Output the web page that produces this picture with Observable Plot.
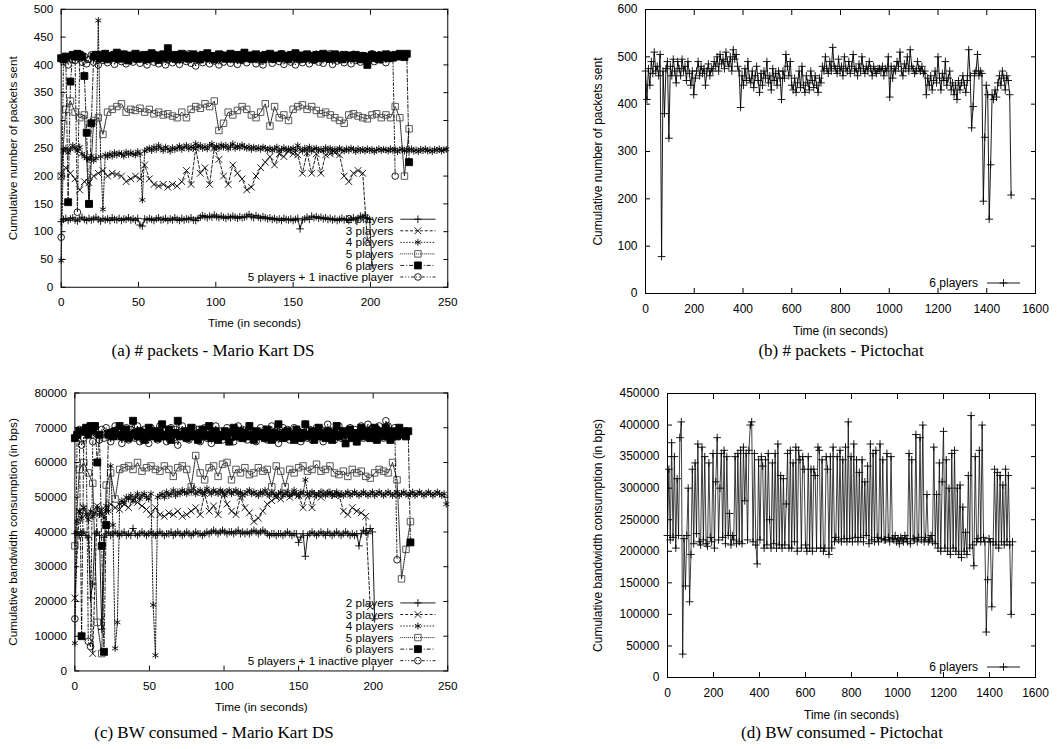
<!DOCTYPE html>
<html><head><meta charset="utf-8">
<script src="https://cdn.jsdelivr.net/npm/d3@7"></script>
<script src="https://cdn.jsdelivr.net/npm/@observablehq/plot@0.6"></script>
<style>
body{margin:0;background:#fff;}
#root{position:relative;width:1063px;height:749px;overflow:hidden;background:#fff;}
.panel{position:absolute;overflow:hidden;}
.cap{position:absolute;font-family:"Liberation Serif","Times New Roman",serif;font-size:17px;color:#000;white-space:nowrap;transform:translateX(-50%);line-height:20px;}
</style></head><body><div id="root"></div>
<script>
// ---------------- DATA ----------------
const seriesNames = ["2 players","3 players","4 players","5 players","6 players","5 players + 1 inactive player"];
// sampling interval (s) of each Mario Kart trace, in legend order
const mkSteps = [1.5, 3, 1.5, 3, 1.5, 1.5];
const pcStep = 6;       // sampling interval (s) of the Pictochat traces

// (a) packets - Mario Kart DS
const pkt2 = [118,122,124,120,123,125,121,119,123,126,
122,120,124,121,123,126,122,119,124,121,
123,120,125,122,121,124,120,123,122,125,
121,123,120,124,112,110,123,121,124,122,
120,123,125,121,122,124,120,123,121,125,
122,120,124,121,123,122,125,121,120,124,
126,129,127,125,128,126,130,127,125,128,
126,124,127,125,128,126,124,127,125,126,
128,131,127,125,129,126,124,127,125,123,
125,122,124,121,123,120,124,122,121,123,
120,122,124,105,121,123,126,122,128,125,
127,124,126,123,125,122,124,121,123,120,
122,124,121,123,120,122,125,121,124,128,
126,130,124,122,40];
const pkt3 = [200,215,205,195,175,190,188,200,205,210,200,205,203,200,190,195,200,195,220,195,185,182,185,180,185,182,190,210,185,250,205,215,185,250,230,200,185,220,205,195,175,180,200,215,225,235,220,240,235,245,240,238,205,242,205,240,205,238,240,242,238,200,190,205,210,205,85];
const pkt4 = [48,245,250,242,248,255,250,245,252,240,
235,232,230,236,228,232,480,235,140,238,
235,240,236,242,238,241,240,236,243,239,
242,240,238,244,240,157,245,248,250,246,
252,248,255,250,246,252,249,245,251,248,
250,254,248,252,255,249,253,250,258,252,
255,250,253,249,255,258,251,254,250,256,
252,255,249,253,258,250,254,251,256,252,
250,253,248,252,249,251,248,252,250,247,
250,246,249,252,245,248,251,246,249,247,
250,246,255,248,245,250,247,252,245,249,
250,246,248,245,251,247,250,245,248,246,
250,247,245,249,246,250,248,244,249,246,
248,245,249,246,248,244,247,249,246,248,
247,245,249,246,248,244,247,249,245,248,
246,249,245,247,244,248,246,249,245,247,
244,248,246,249,245,247,248];
const pkt5 = [200,320,335,315,305,310,150,300,305,275,315,320,325,330,315,320,318,322,315,320,312,315,310,312,308,305,315,305,320,325,322,330,325,335,282,295,315,310,318,325,320,310,305,315,330,290,325,305,310,300,320,325,328,320,325,318,312,315,310,305,300,295,310,312,308,305,303,310,312,305,310,305,325,305,200,285];
const pkt6 = [412,410,415,153,370,418,415,420,418,415,380,278,150,295,415,418,
418,412,415,420,410,416,413,418,422,411,
415,419,412,408,417,414,420,411,416,413,
418,410,415,421,412,417,409,414,419,413,
430,416,412,418,410,415,420,413,417,411,
415,419,412,416,410,418,414,421,412,416,
410,415,419,413,417,411,416,420,412,415,
418,410,414,422,413,417,411,415,419,412,
416,410,418,414,420,411,415,417,412,419,
413,416,410,418,415,421,412,417,411,414,
419,413,416,410,418,415,412,420,414,417,
411,415,419,412,416,410,418,413,417,415,
412,418,414,410,416,413,400,
415,418,412,416,410,417,414,419,412,416,413,418,415,420,417,414,420,225];
const pktIn = [90,410,412,400,415,410,408,135,412,405,
415,402,410,418,405,412,400,415,408,420,
404,412,418,401,410,415,406,419,402,412,
416,405,410,420,403,414,408,400,416,411,
405,418,402,412,415,400,409,417,404,413,
418,401,410,415,406,420,403,412,398,415,
409,404,418,411,402,416,407,413,400,419,
405,412,417,403,410,415,401,418,408,412,
404,416,410,419,402,413,407,400,415,411,
418,403,410,414,406,420,401,412,417,405,
413,400,416,409,404,418,411,402,415,408,
419,405,412,403,416,410,420,401,414,407,
412,418,404,410,416,402,419,408,413,405,
417,410,403,415,420,406,412,418,409,414,
404,419,412,416,200];

// (c) bandwidth (bps) - Mario Kart DS
const bw2 = [39500,40000,39000,39500,40000,39000,38500,21000,25000,39500,
40000,39000,12000,38500,39500,40000,39000,39500,40000,39500,
39000,39500,40000,39000,39500,39000,41000,39500,39000,39500,
40000,39500,39000,39500,40000,39500,39000,39500,40000,39500,
39000,39500,39500,40000,39000,39500,40000,39500,39000,39500,
40000,39500,39000,39500,40000,39500,39500,39000,39500,40000,
39500,40000,40500,40000,39500,40000,40500,40000,39500,40000,
40000,39500,40000,40500,39500,40000,39500,40000,39500,40000,
40500,40000,39500,40000,40500,40000,39500,39000,39500,39500,
39000,39500,39500,39000,39500,40000,39500,39000,39500,39500,
37000,38500,39500,33000,39000,39500,40000,39500,39000,39500,
40000,39500,39000,40000,39500,39000,39500,40000,39500,39000,
39500,40000,39500,39000,39500,39000,39500,36000,39500,40500,
40000,39500,41000,40000,15000];
const bw3 = [21000,46000,47000,45000,5000,47500,45000,46000,48000,47000,46500,48000,47000,49000,48500,47500,46500,45000,47000,45000,44500,45500,45000,46000,44500,45000,46000,47000,45000,51000,46000,47500,45000,51500,48000,46000,45000,50000,47000,45500,43000,44000,46000,48000,49000,50000,49500,51000,50000,51000,50500,47000,51000,47000,51000,50000,51500,51000,50500,51000,46000,45000,47000,46000,45500,44500,18500];
const bw4 = [8000,43000,46000,44000,47000,45000,43500,46000,44500,45500,
47000,45000,46500,44000,47500,46000,59000,42000,6500,14000,
48000,49000,48500,50000,49500,50500,49000,50000,51000,49500,
50500,51000,50000,49500,51000,19000,4500,50000,50500,51000,
50000,51500,50500,51000,52000,50500,51500,51000,52000,51500,
51000,52000,51500,52500,51000,51500,52000,51000,51500,52500,
51500,51000,52000,51500,51000,52000,51500,50500,51500,52000,
51000,51500,52000,51000,51500,50500,51000,51500,52000,51000,
51500,51000,50500,51500,51000,52000,51000,50500,51500,51000,
50500,51000,51500,50500,51000,51500,50500,51000,52000,51000,
50500,51500,51000,55000,51000,50500,51500,51000,50500,51000,
51500,51000,50500,51000,51500,50500,51000,51500,50500,51000,
50500,51000,51500,50500,51000,51500,51000,50500,51000,51500,
51000,50500,51000,51500,50500,51000,51500,51000,50500,51000,
51500,51000,50500,51000,51500,50500,51000,51500,51000,50500,
51000,51500,50500,51000,51500,51000,50500,51000,51500,51000,
50500,51000,51500,51000,50500,51000,48000];
const bw5 = [36000,58000,60000,57000,54000,14000,5000,53500,57000,49500,58000,58500,59000,58000,60000,57500,58500,59000,58000,57500,59000,58000,56000,58500,59000,58000,53000,62000,57000,55000,58500,59000,56000,59500,60000,55000,58000,57000,58500,56500,57000,58500,57500,58000,53000,59000,57500,53000,58000,57000,58500,59000,57500,58000,59500,57500,58000,59000,57000,56500,57500,56000,58000,57000,57500,56000,55500,57000,58000,57500,57000,60000,55000,26500,35000,43000];
const bw6 = [67000,68000,69000,10000,69000,70000,68000,70500,69000,70500,60000,68000,36000,5500,42000,68000,
68500,67500,69000,68000,70500,67500,68500,69500,67000,68000,
72000,68500,67500,69000,68000,66500,68500,70000,67500,68000,
69000,67000,68500,71000,67500,68000,69500,66500,68000,68500,
72000,67500,68000,69000,67000,68500,70000,67500,68000,66500,
68500,69500,67500,68000,70500,67000,68500,69000,66500,68000,
67500,69000,68000,66000,68500,70000,67500,68000,69000,67000,
68500,67500,70500,68000,66500,69000,67500,68000,68500,67000,
69500,68000,66500,68500,67500,71000,68000,67000,68500,69000,
67500,68000,66500,69500,68000,67000,68500,71000,67500,68000,
69000,66500,68000,70000,67500,68500,67000,69000,68000,66500,
68500,70500,67500,68000,69000,65500,68000,69500,67000,68500,
66000,68000,70000,67500,68500,69000,67000,68000,70000,66500,
68500,69000,67500,70000,68000,66500,69000,68500,67500,70000,
68000,69000,67500,69000,37000];
const bwIn = [15000,68000,69500,65000,67000,70000,8500,7000,66000,70500,
68000,66500,69500,67000,70000,68500,66000,69000,70500,67500,
69000,65500,68000,70000,66500,69500,68000,67000,70500,66000,
68500,69500,67000,65500,70000,68000,69000,66500,70500,67500,
69000,66000,68500,70000,67000,69500,65000,68000,70500,67500,
69000,66500,68000,70000,67500,69500,66000,68500,70000,67000,
69500,65500,68000,70500,67000,69000,66500,68500,70000,67500,
69000,66000,68500,70500,67000,69500,68000,66500,70000,67500,
69000,66000,68500,70000,67500,69500,66500,68000,70500,67000,
69000,65500,68500,70000,67000,69500,66500,68000,70000,67500,
69000,66000,68500,71000,67000,69500,66500,68000,70000,67500,
69500,66000,68500,71000,67500,69000,66500,68000,70500,67000,
69000,66500,68500,70000,67500,69500,66000,68000,70500,67000,
69000,71000,68000,70000,67000,69500,70500,68000,67000,72000,
70500,69000,67000,70000,32000];

// (b) packets - Pictochat, 6 players
const pcPkt = [470,410,475,440,490,465,510,470,480,460,505,78,470,380,475,490,328,
480,460,495,470,445,490,475,460,495,470,480,450,490,465,440,470,420,
455,470,490,460,480,465,475,440,470,485,460,475,470,
490,480,500,470,505,485,495,475,510,490,480,500,470,515,495,505,480,470,393,
460,440,475,450,490,455,445,470,435,460,480,450,425,465,440,470,455,490,445,460,430,475,450,465,440,470,455,410,
470,455,505,480,460,490,
440,430,455,425,445,470,435,480,440,425,460,445,430,470,450,435,460,440,425,455,445,
480,470,500,475,465,490,470,520,480,475,465,495,470,480,460,500,475,470,490,465,480,505,470,475,460,485,470,500,475,465,480,470,490,475,460,480,470,465,475,475,470,480,460,475,470,500,415,480,455,475,470,490,480,510,470,460,485,475,500,470,515,480,475,465,470,490,475,470,480,465,
470,420,455,440,460,430,450,470,445,500,455,430,465,450,490,440,455,470,430,445,420,
440,410,450,430,445,460,440,425,450,515,460,350,395,465,470,505,460,470,465,195,330,440,420,157,272,
420,410,430,415,445,460,440,470,455,430,460,450,420,208];

// (d) bandwidth - Pictochat, 6 players (in thousands of bps)
const pcBwK = [225,330,218,372,222,350,205,315,225,380,
405,37,220,145,225,300,120,195,330,212,
340,228,370,215,210,365,218,350,212,208,
340,222,215,355,205,310,380,218,300,355,
222,360,212,350,225,260,210,225,218,350,
212,355,215,360,212,365,280,355,218,360,
400,405,215,355,210,180,345,218,350,335,
205,345,210,355,250,205,340,212,355,205,
370,210,320,205,315,210,275,355,205,360,
205,340,215,365,200,360,345,205,350,330,
210,200,350,205,330,200,330,320,205,365,
360,205,345,200,205,350,330,195,350,205,
365,215,222,350,218,360,215,345,220,365,
215,405,220,350,215,370,222,345,215,325,
222,345,215,310,225,335,212,370,218,355,
215,360,222,215,370,220,345,218,218,355,
222,215,350,220,218,225,215,220,212,222,
218,215,225,220,215,355,212,345,220,218,
385,215,222,380,218,400,215,222,290,215,
218,225,215,365,212,290,205,340,200,310,
390,205,345,200,300,195,355,205,360,200,
300,195,305,190,270,200,230,195,320,205,
415,210,177,350,215,220,360,215,400,222,
215,72,155,220,215,112,215,330,210,325,
205,320,215,305,210,330,215,320,210,100,215];

const mkXTicks = [0,50,100,150,200,250];
const pcXTicks = [0,200,400,600,800,1000,1200,1400,1600];
const pktYTicks = [0,50,100,150,200,250,300,350,400,450,500];
const pcPktYTicks = [0,100,200,300,400,500,600];
const bwYTicks = [0,10000,20000,30000,40000,50000,60000,70000,80000];
const pcBwYTicks = [0,50000,100000,150000,200000,250000,300000,350000,400000,450000];
const captions = ["(a) # packets - Mario Kart DS","(b) # packets - Pictochat","(c) BW consumed - Mario Kart DS","(d) BW consumed - Pictochat"];

// ---------------- STYLE ----------------
const styles = [
  {symbol:"plus", d3sym:d3.symbolPlus, r:2.6, fill:"none", stroke:"black", dash:null},
  {symbol:"times", d3sym:d3.symbolTimes, r:3.2, fill:"none", stroke:"black", dash:"3,2"},
  {symbol:"asterisk", d3sym:d3.symbolAsterisk, r:3.3, fill:"none", stroke:"black", dash:"1.5,1.5"},
  {symbol:"square2", d3sym:d3.symbolSquare2, r:4.2, fill:"none", stroke:"#444", dash:"1,1"},
  {symbol:"square", d3sym:d3.symbolSquare, r:4, fill:"black", stroke:"black", dash:"4,2,1,2"},
  {symbol:"circle", d3sym:d3.symbolCircle, r:3.4, fill:"none", stroke:"black", dash:"3,2,1,2,1,2"}
];
const FONT = "'Liberation Sans', Arial, Helvetica, sans-serif";
const rows = (vals, step, scale = 1) => vals.map((v, i) => ({t: i * step, v: v * scale}));
const fmt = d3.format("d");

function panel(o) {
  const [mt, mr, mb, ml] = o.margin;
  const marks = [];
  o.series.forEach((s, k) => {
    const st = o.styles[k];
    marks.push(Plot.line(s, {x: "t", y: "v", stroke: "black", strokeWidth: o.lineWidth, strokeDasharray: st.dash}));
    marks.push(Plot.dot(s, {x: "t", y: "v", symbol: st.symbol, r: st.r, stroke: st.stroke, fill: st.fill, strokeWidth: 0.9}));
  });
  marks.push(Plot.frame({stroke: "black", strokeWidth: 1}));
  marks.push(Plot.axisX(o.xTicks, {anchor: "bottom", tickSize: -5, tickPadding: 16, tickFormat: fmt, label: "Time (in seconds)", labelAnchor: "center", labelOffset: 41, labelArrow: "none"}));
  marks.push(Plot.axisX(o.xTicks, {anchor: "top", tickSize: -5, tickFormat: () => "", label: null}));
  marks.push(Plot.axisY(o.yTicks, {anchor: "left", tickSize: -5, tickPadding: 13, tickFormat: fmt, label: o.yLabel, labelAnchor: "center", labelOffset: o.yLabelOffset, labelArrow: "none"}));
  marks.push(Plot.axisY(o.yTicks, {anchor: "right", tickSize: -5, tickFormat: () => "", label: null}));
  const svg = Plot.plot({
    width: o.width, height: o.height,
    marginTop: mt, marginRight: mr, marginBottom: mb, marginLeft: ml,
    x: {domain: o.xDomain}, y: {domain: o.yDomain},
    style: {fontFamily: FONT, fontSize: "12px", background: "white", color: "black", overflow: "visible"},
    marks
  });
  // key (gnuplot style, inside bottom-right)
  const right = o.width - mr, bottom = o.height - mb;
  const g = d3.select(svg).append("g").attr("font-family", FONT).attr("font-size", 12);
  const n = o.legend.length;
  o.legend.forEach((name, i) => {
    const st = o.styles[i];
    const y = bottom - 10 - (n - 1 - i) * 11.8;
    g.append("text").attr("x", right - o.keyText).attr("y", y).attr("dy", "0.35em").attr("text-anchor", "end").text(name);
    g.append("line").attr("x1", right - o.keyL1).attr("x2", right - o.keyL2).attr("y1", y).attr("y2", y)
      .attr("stroke", "black").attr("stroke-width", 0.9).attr("stroke-dasharray", st.dash);
    g.append("path").attr("transform", `translate(${right - (o.keyL1 + o.keyL2) / 2},${y})`)
      .attr("d", d3.symbol(st.d3sym, Math.PI * st.r * st.r)())
      .attr("stroke", st.stroke).attr("stroke-width", 0.9).attr("fill", st.fill);
  });
  const div = document.createElement("div");
  div.className = "panel";
  Object.assign(div.style, {left: o.left + "px", top: o.top + "px", width: o.clip + "px", height: o.height + "px"});
  div.appendChild(svg);
  document.getElementById("root").appendChild(div);
}

const root = document.getElementById("root");
function caption(text, cx, top) {
  const d = document.createElement("div");
  d.className = "cap"; d.textContent = text;
  d.style.left = cx + "px"; d.style.top = top + "px";
  root.appendChild(d);
}

panel({left: 0, top: 0, clip: 460, width: 470, height: 340, margin: [9, 13, 47, 62],
  xDomain: [0, 250], yDomain: [0, 500], xTicks: mkXTicks, yTicks: pktYTicks,
  yLabel: "Cumulative number of packets sent", yLabelOffset: 54, lineWidth: 0.9,
  series: [pkt2, pkt3, pkt4, pkt5, pkt6, pktIn].map((a, k) => rows(a, mkSteps[k])),
  styles, legend: seriesNames, keyText: 55, keyL1: 48, keyL2: 12});

panel({left: 530, top: 0, clip: 533, width: 533, height: 340, margin: [9, 28, 47, 115],
  xDomain: [0, 1600], yDomain: [0, 600], xTicks: pcXTicks, yTicks: pcPktYTicks,
  yLabel: "Cumulative number of packets sent", yLabelOffset: 52, lineWidth: 0.9,
  series: [rows(pcPkt, pcStep)], styles: [styles[0]], legend: ["6 players"], keyText: 57, keyL1: 48, keyL2: 15});

panel({left: 0, top: 370, clip: 460, width: 470, height: 350, margin: [23, 13, 43, 76],
  xDomain: [0, 250], yDomain: [0, 80000], xTicks: mkXTicks, yTicks: bwYTicks,
  yLabel: "Cumulative bandwidth consumption (in bps)", yLabelOffset: 68, lineWidth: 0.9,
  series: [bw2, bw3, bw4, bw5, bw6, bwIn].map((a, k) => rows(a, mkSteps[k])),
  styles, legend: seriesNames, keyText: 55, keyL1: 48, keyL2: 12});

panel({left: 530, top: 370, clip: 533, width: 533, height: 350, margin: [23, 28, 43, 137],
  xDomain: [0, 1600], yDomain: [0, 450000], xTicks: pcXTicks, yTicks: pcBwYTicks,
  yLabel: "Cumulative bandwidth consumption (in bps)", yLabelOffset: 74, lineWidth: 0.75,
  series: [rows(pcBwK, pcStep, 1000)], styles: [styles[0]], legend: ["6 players"], keyText: 57, keyL1: 48, keyL2: 15});

caption(captions[0], 213, 341);
caption(captions[1], 841, 341);
caption(captions[2], 214, 723);
caption(captions[3], 842, 723);
</script></body></html>
